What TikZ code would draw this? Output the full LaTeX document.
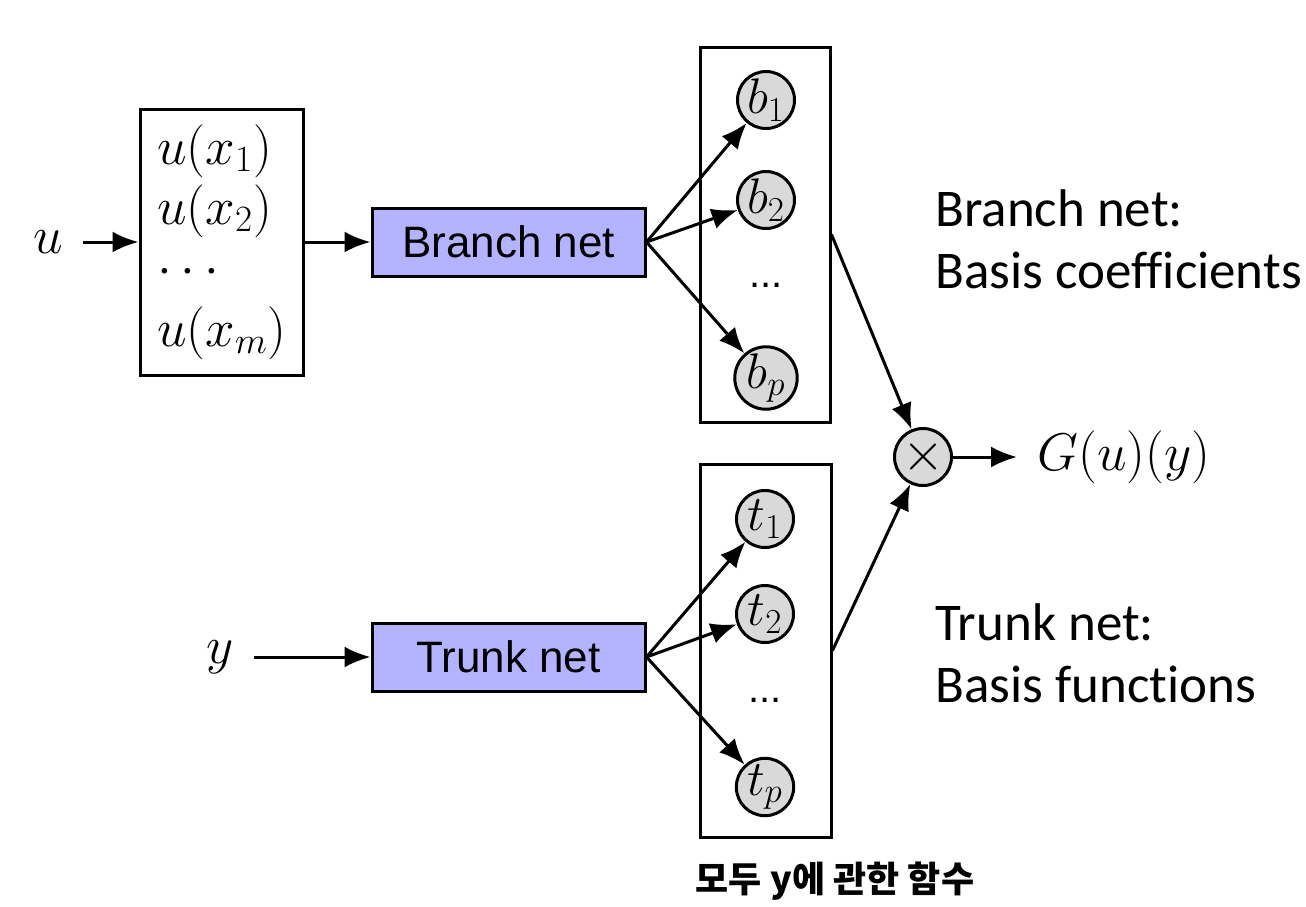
\RequirePackage{fix-cm}
\documentclass[tikz,border=0pt]{standalone}
\usepackage{fontspec}
\newfontfamily\helv{Liberation Sans}
\newfontfamily\calib[Ligatures=NoCommon]{Carlito}
\newfontfamily\kr{Noto Sans CJK KR}
\usetikzlibrary{arrows.meta}
\definecolor{netblue}{HTML}{B3B3FF}
\definecolor{unitgray}{HTML}{D9D9D9}
\begin{document}
\begin{tikzpicture}[x=0.5pt,y=-0.5pt,
  every node/.style={inner sep=0pt},
  mth/.style={font=\fontsize{26.5}{30}\selectfont},
  frame/.style={draw,line width=1.5pt},
  netbox/.style={frame,fill=netblue,minimum width=136.5pt,minimum height=34pt,font=\helv\fontsize{22}{26}\selectfont},
  unit/.style={circle,draw,line width=1.5pt,fill=unitgray,minimum size=28.5pt,font=\fontsize{25}{28}\selectfont},
  dotsnode/.style={font=\helv\fontsize{20}{24}\selectfont},
  arr/.style={line width=1.5pt,-{Latex[length=13pt,width=10.5pt]}},
  note/.style={font=\calib\fontsize{26.5}{30}\selectfont,anchor=base west},
]
\useasboundingbox (0,0) rectangle (1306,906);
% input samples
\node[frame,minimum width=81.5pt,minimum height=133pt] (inbox) at (221.5,242) {};
\node[mth,anchor=base west] (ux1) at (157,164) {$u(x_1)$};
\node[mth,anchor=base west] (ux2) at (157,224) {$u(x_2)$};
\node[mth,anchor=base west] (uxd) at (157,284) {$\cdots$};
\node[mth,anchor=base west] (uxm) at (157,346) {$u(x_m)$};
\node[mth] (u) at (48,242) {$u$};
\node[mth] (y) at (220,657) {$y$};
% nets
\node[netbox] (bn) at (508.5,242) {Branch net};
\node[netbox] (tn) at (508.5,657) {Trunk net};
% branch outputs
\node[frame,minimum width=65pt,minimum height=187.5pt] (bbox) at (765,234.5) {};
\node[unit] (b1) at (766,100) {$b_1$};
\node[unit] (b2) at (766,200) {$b_2$};
\node[dotsnode] (bd) at (766,285) {...};
\node[unit] (bp) at (766,378) {$b_p$};
% trunk outputs
\node[frame,minimum width=65.5pt,minimum height=186.5pt] (tbox) at (765.5,650.5) {};
\node[unit] (t1) at (765,519) {$t_1$};
\node[unit] (t2) at (765,614) {$t_2$};
\node[dotsnode] (td) at (765,700) {...};
\node[unit] (tp) at (765,787) {$t_p$};
% product
\node[unit,font=\fontsize{27}{30}\selectfont] (times) at (923,457) {$\times$};
\node[mth,anchor=west] (G) at (1037,457) {$G(u)(y)$};
% connectors
\draw[arr,shorten <=10pt] (u.east) -- (inbox.west);
\draw[arr] (inbox.east) -- (bn.west);
\draw[arr,shorten <=10pt] (y.east) -- (tn.west);
\draw[arr] (bn.east) -- (b1);
\draw[arr] (bn.east) -- (b2);
\draw[arr] (bn.east) -- (bp);
\draw[arr] (tn.east) -- (t1);
\draw[arr] (tn.east) -- (t2);
\draw[arr] (tn.east) -- (tp);
\draw[arr] (bbox.east) -- (times);
\draw[arr] (tbox.east) -- (times);
\draw[arr,shorten >=10pt] (times) -- (G.west);
% notes
\node[note] (n1) at (935,226) {Branch net:};
\node[note] (n2) at (935,288) {Basis coefficients};
\node[note] (n3) at (935,640) {Trunk net:};
\node[note] (n4) at (935,702) {Basis functions};
\node[font=\kr\bfseries\fontsize{18}{22}\selectfont] (kr) at (835,881) {모두 y에 관한 함수};
\end{tikzpicture}
\end{document}
